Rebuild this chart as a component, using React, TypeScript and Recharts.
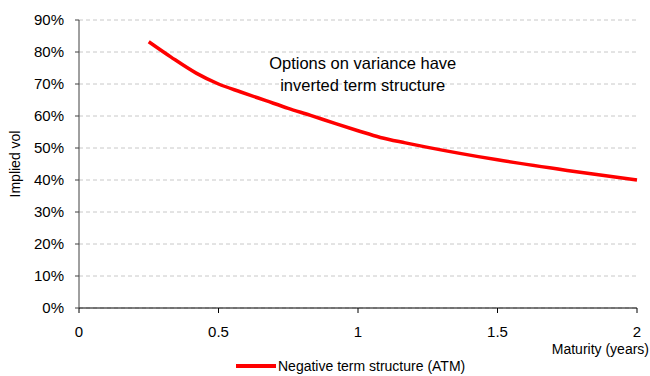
import { LineChart, Line, XAxis, YAxis, CartesianGrid, Legend, ReferenceDot } from 'recharts';

// maturity in years, implied vol in %
const maturities = [0.25, 0.33, 0.42, 0.5, 0.58, 0.67, 0.75, 0.83, 0.92, 1.0, 1.08, 1.17, 1.25, 1.5, 1.75, 2.0];
const impliedVol = [83.2, 78.4, 73.4, 70.0, 67.5, 64.8, 62.4, 60.2, 57.6, 55.4, 53.3, 51.6, 50.2, 46.3, 43.0, 40.0];
const xTicks = [0, 0.5, 1, 1.5, 2];
const yTicks = [0, 10, 20, 30, 40, 50, 60, 70, 80, 90];

const seriesName = 'Negative term structure (ATM)';
const noteLines = ['Options on variance have', 'inverted term structure'];

const data = maturities.map((t, i) => ({ t, vol: impliedVol[i] }));

const FONT = '"Liberation Sans", Arial, sans-serif';

function NoteLabel({ viewBox }: any) {
  const cx = viewBox.x + viewBox.width / 2;
  const cy = viewBox.y + viewBox.height / 2;
  return (
    <text x={cx} y={cy} textAnchor="middle" fontFamily={FONT} fontSize={16.5} fill="#000">
      <tspan x={cx} dy={-5}>{noteLines[0]}</tspan>
      <tspan x={cx} dy={22}>{noteLines[1]}</tspan>
    </text>
  );
}

function YLabel({ viewBox }: any) {
  const x = viewBox.x + 15;
  const y = viewBox.y + viewBox.height / 2;
  return (
    <text x={x} y={y} transform={`rotate(-90, ${x}, ${y})`} textAnchor="middle" dominantBaseline="central"
      fontFamily={FONT} fontSize={14} fill="#000">
      Implied vol
    </text>
  );
}

function XLabel({ viewBox }: any) {
  return (
    <text x={viewBox.x + viewBox.width + 12} y={viewBox.y + 46} textAnchor="end"
      fontFamily={FONT} fontSize={14} fill="#000">
      Maturity (years)
    </text>
  );
}

function LegendContent() {
  return (
    <div style={{ display: 'flex', alignItems: 'center', fontFamily: FONT, fontSize: 14, lineHeight: '16px', color: '#000', whiteSpace: 'nowrap' }}>
      <svg width={40} height={6} style={{ marginRight: 2 }}>
        <line x1={0} x2={40} y1={3} y2={3} stroke="#ff0000" strokeWidth={4} />
      </svg>
      <span>{seriesName}</span>
    </div>
  );
}

export default function App() {
  return (
    <div style={{ position: 'absolute', left: 0, top: 0, width: 650, height: 376, background: '#fff', overflow: 'hidden' }}>
      <LineChart width={650} height={376} data={data} margin={{ top: 20, right: 13, bottom: 28, left: 0 }}>
        <CartesianGrid horizontal vertical={false} stroke="#c8c8c8" strokeDasharray="4 3" />
        <XAxis
          dataKey="t"
          type="number"
          domain={[0, 2]}
          ticks={xTicks}
          height={40}
          stroke="#000"
          tickSize={5}
          tickMargin={13}
          tick={{ fill: '#000', fontSize: 15, fontFamily: FONT }}
          label={<XLabel />}
        />
        <YAxis
          type="number"
          domain={[0, 90]}
          ticks={yTicks}
          width={79}
          stroke="#404040"
          tickSize={4}
          tickMargin={11}
          tickFormatter={(v: number) => `${v}%`}
          tick={{ fill: '#000', fontSize: 15, fontFamily: FONT }}
          label={<YLabel />}
        />
        <ReferenceDot x={1.017} y={73.1} r={1} fill="none" stroke="none" label={<NoteLabel />} />
        <Legend
          layout="horizontal"
          verticalAlign="middle"
          align="center"
          wrapperStyle={{ top: 358, left: 236, width: 'auto' }}
          content={<LegendContent />}
        />
        <Line
          dataKey="vol"
          name={seriesName}
          type="monotone"
          stroke="#ff0000"
          strokeWidth={3.5}
          dot={false}
          isAnimationActive={false}
        />
      </LineChart>
    </div>
  );
}
